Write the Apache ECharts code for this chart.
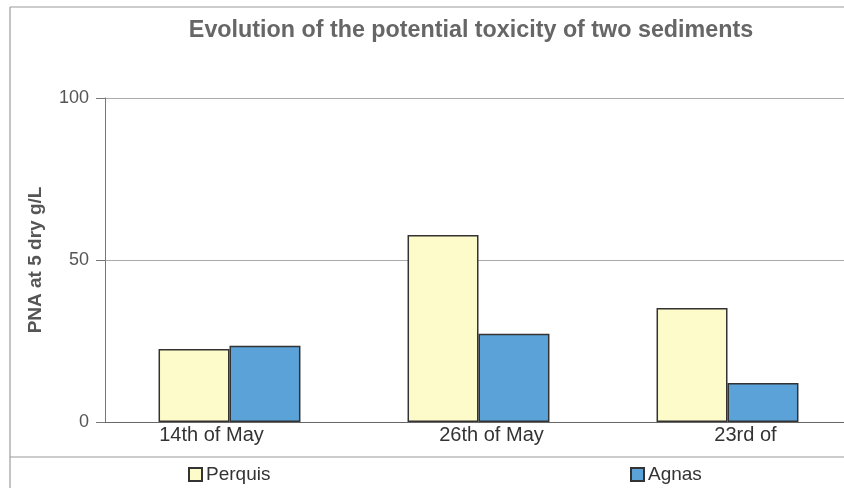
<!DOCTYPE html>
<html>
<head>
<meta charset="utf-8">
<script src="https://cdn.jsdelivr.net/npm/echarts@6/dist/echarts.min.js"></script>
<style>
  html, body { margin: 0; padding: 0; background: #fff; }
  #chart { width: 844px; height: 488px; }
</style>
</head>
<body>
<div id="chart"></div>
<script>
// Sampling dates and PNA values for the two sediments
const categories = ['14th of May', '26th of May', '23rd of'];
const perquis = [22.5, 57.7, 35.2];
const agnas = [23.5, 27.2, 12.0];
const yTicks = { min: 0, max: 100, interval: 50 };

// horizontal nudges of the date labels (px, negative = left)
const labelShift = [-18, 13, 18];

const chart = echarts.init(document.getElementById('chart'));
const font = '"Liberation Sans", Arial, Helvetica, sans-serif';

const xData = categories.map((c, i) => ({
  value: c,
  textStyle: {
    padding: labelShift[i] < 0 ? [0, -2 * labelShift[i], 0, 0] : [0, 0, 0, 2 * labelShift[i]]
  }
}));

const legendText = { fontFamily: font, fontSize: 19, color: '#333333', padding: [0, 0, 0, -1] };

chart.setOption({
  backgroundColor: '#ffffff',
  animation: false,
  title: {
    text: 'Evolution of the potential toxicity of two sediments',
    left: 466,
    textAlign: 'center',
    top: 14,
    textStyle: { fontFamily: font, fontSize: 23.3, fontWeight: 'bold', color: '#666666' }
  },
  legend: [
    {
      data: [{ name: 'Perquis', icon: 'rect' }],
      left: 188, top: 465, padding: 0,
      itemWidth: 13, itemHeight: 13, itemGap: 4,
      textStyle: legendText
    },
    {
      data: [{ name: 'Agnas', icon: 'rect' }],
      left: 630, top: 465, padding: 0,
      itemWidth: 13, itemHeight: 13, itemGap: 4,
      textStyle: legendText
    }
  ],
  // the plot runs on past the right edge of the canvas
  grid: { left: 105, top: 98, width: 747, bottom: 66, containLabel: false, outerBoundsMode: 'none' },
  xAxis: {
    type: 'category',
    data: xData,
    axisTick: { show: false },
    axisLine: { lineStyle: { color: '#666666', width: 1 } },
    axisLabel: { fontFamily: font, fontSize: 20, color: '#333333', margin: 3 }
  },
  yAxis: {
    type: 'value',
    min: yTicks.min, max: yTicks.max, interval: yTicks.interval,
    name: 'PNA at 5 dry g/L',
    nameLocation: 'middle',
    nameGap: 60,
    nameTextStyle: { fontFamily: font, fontSize: 19, fontWeight: 'bold', color: '#555555' },
    axisLine: { show: true, lineStyle: { color: '#777777', width: 1 } },
    axisTick: { show: true, length: 9, lineStyle: { color: '#777777' } },
    axisLabel: { fontFamily: font, fontSize: 18, color: '#555555', margin: 16 },
    splitLine: { lineStyle: { color: '#aaaaaa', width: 1 } }
  },
  series: [
    {
      name: 'Perquis', type: 'bar', data: perquis,
      barGap: '0%', barCategoryGap: '43%',
      itemStyle: { color: '#fdfbc9', borderColor: '#333333', borderWidth: 1.5 }
    },
    {
      name: 'Agnas', type: 'bar', data: agnas,
      barGap: '0%', barCategoryGap: '43%',
      itemStyle: { color: '#5ba2d8', borderColor: '#333333', borderWidth: 1.5 }
    }
  ],
  graphic: [
    // chart frame: left and top edges, and the rule above the legend
    { type: 'line', shape: { x1: 10, y1: 7, x2: 10, y2: 488 }, style: { stroke: '#888888', lineWidth: 1 } },
    { type: 'line', shape: { x1: 10, y1: 7, x2: 844, y2: 7 }, style: { stroke: '#999999', lineWidth: 1 } },
    { type: 'line', shape: { x1: 10, y1: 457, x2: 844, y2: 457 }, style: { stroke: '#999999', lineWidth: 1 } }
  ]
});
</script>
</body>
</html>
